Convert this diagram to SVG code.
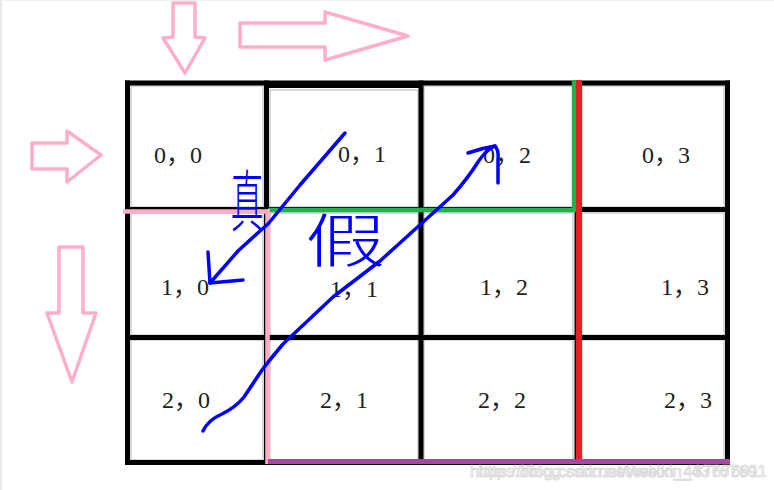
<svg xmlns="http://www.w3.org/2000/svg" width="774" height="490" viewBox="0 0 774 490">
<style>
.cell{fill:#fff;stroke:#b4b4b4;stroke-width:1}
.grid{stroke:#000;stroke-width:5;fill:none}
.lbl{font-family:"Liberation Serif","Noto Sans CJK SC",serif;font-size:24px;fill:#222;text-anchor:middle}
.parrow{fill:#fff;stroke:#ffaec9;stroke-width:3.5;stroke-linejoin:round}
.blue{fill:none;stroke:#0000ff;stroke-width:3.5;stroke-linecap:round;stroke-linejoin:round}
.hand{font-family:"Noto Sans CJK SC",sans-serif;font-weight:300;fill:#0000ff;text-anchor:middle}
.wm{font-family:"Liberation Sans",Arial,sans-serif;font-size:17px;fill:#f6f6f6;stroke:#d0d0d0;stroke-width:0.6;text-anchor:end}
</style>
<rect x="0" y="0" width="774" height="490" fill="#fff"/>
<rect x="0" y="0" width="2" height="490" fill="#e8e8e8"/>
<rect x="0" y="0" width="774" height="1" fill="#f0f0f0"/>

<g id="cells">
<g id="c00"><rect class="cell" x="131" y="86" width="132" height="121"/><text class="lbl" x="178" y="163">0，0</text></g>
<g id="c01"><rect class="cell" x="270" y="90" width="148" height="117"/><text class="lbl" x="362" y="162">0，1</text></g>
<g id="c02"><rect class="cell" x="424" y="86" width="149" height="121"/><text class="lbl" x="507" y="163">0，2</text></g>
<g id="c03"><rect class="cell" x="582" y="86" width="142" height="121"/><text class="lbl" x="666" y="163">0，3</text></g>
<g id="c10"><rect class="cell" x="131" y="213" width="132" height="122"/><text class="lbl" x="185" y="295">1，0</text></g>
<g id="c11"><rect class="cell" x="270" y="213" width="148" height="122"/><text class="lbl" x="354" y="297">1，1</text></g>
<g id="c12"><rect class="cell" x="424" y="213" width="149" height="122"/><text class="lbl" x="504" y="295">1，2</text></g>
<g id="c13"><rect class="cell" x="582" y="213" width="142" height="122"/><text class="lbl" x="685" y="295">1，3</text></g>
<g id="c20"><rect class="cell" x="131" y="340" width="132" height="120"/><text class="lbl" x="186" y="408">2，0</text></g>
<g id="c21"><rect class="cell" x="270" y="340" width="148" height="120"/><text class="lbl" x="344" y="408">2，1</text></g>
<g id="c22"><rect class="cell" x="424" y="340" width="149" height="120"/><text class="lbl" x="502" y="408">2，2</text></g>
<g id="c23"><rect class="cell" x="582" y="340" width="142" height="120"/><text class="lbl" x="688" y="408">2，3</text></g>
</g>

<g id="grid" class="grid">
<line x1="125" y1="83" x2="730" y2="83"/>
<line x1="264" y1="86.5" x2="421" y2="86.5" stroke-width="3"/>
<line x1="125" y1="209.5" x2="730" y2="209.5"/>
<line x1="125" y1="337.5" x2="730" y2="337.5"/>
<line x1="125" y1="462.5" x2="730" y2="462.5"/>
<line x1="127.5" y1="80.5" x2="127.5" y2="465"/>
<line x1="266.5" y1="80.5" x2="266.5" y2="465"/>
<line x1="421" y1="80.5" x2="421" y2="465"/>
<line x1="577" y1="80.5" x2="577" y2="465"/>
<line x1="727.5" y1="80.5" x2="727.5" y2="465"/>
</g>

<g id="highlights">
<line x1="268" y1="210" x2="576" y2="210" stroke="#22b14c" stroke-width="4.5"/>
<line x1="574" y1="80" x2="574" y2="212" stroke="#22b14c" stroke-width="4.5"/>
<line x1="579" y1="80" x2="579" y2="462" stroke="#ed1c24" stroke-width="6"/>
<line x1="123" y1="211.5" x2="270" y2="211.5" stroke="#ffaec9" stroke-width="4.5"/>
<line x1="267.5" y1="209.5" x2="267.5" y2="464" stroke="#ffaec9" stroke-width="4.5"/>
<line x1="268" y1="461.5" x2="730" y2="461.5" stroke="#a349a4" stroke-width="5"/>
</g>

<g id="direction-arrows">
<polygon class="parrow" points="173,3 195,3 195,37 205,38 185,73 163,38 173,37"/>
<polygon class="parrow" points="240,23 325,23 325,12 408,36 325,60 325,47 240,47"/>
<polygon class="parrow" points="32,143 67,143 67,131 101,155 67,182 67,169 32,169"/>
<polygon class="parrow" points="59,247 83,247 83,313 96,313 72,382 47,313 59,313"/>
</g>

<g id="connectors">
<path class="blue" d="M345,133 L300,185 L268,224 Q252,238 238,251 L210,283"/>
<path class="blue" d="M208,252 L210,283 L243,280"/>
<path class="blue" d="M203,431 Q208,420 222,414 Q236,407 244,397 L262,370 Q272,357 283,344 L333,297 L380,261 L422,223 L453,195 Q468,178 478,162 Q486,150 495,146"/>
<path class="blue" d="M468,153 Q482,148 495,146 Q499,150 498,160 L498,183"/>
</g>

<g id="handwriting">
<text class="hand" font-size="46" transform="translate(247,226) scale(0.72,1.45)">真</text>
<text class="hand" font-size="68" transform="translate(345,262) scale(1.18,0.85)">假</text>
</g>

<g id="watermark">
<text class="wm" x="759" y="477">https://blog.csdn.net/weixin_43767691</text>
<text class="wm" x="767" y="477">https://blog.csdn.net/weixin_43767691</text>
</g>
</svg>
